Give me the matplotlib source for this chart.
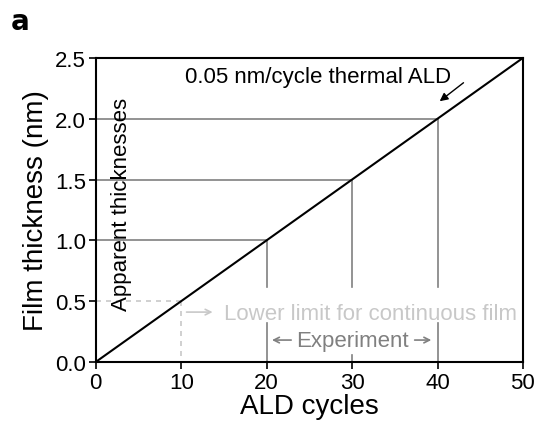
import matplotlib
matplotlib.use("Agg")
import matplotlib.pyplot as plt

plt.rcParams['font.family'] = ['Liberation Sans', 'DejaVu Sans']

# growth line: 0.05 nm per cycle
cycles = [0, 50]
thickness = [0.0, 2.5]

# experimental points (cycles, apparent thickness)
exp_cycles = [20, 30, 40]
exp_thick = [1.0, 1.5, 2.0]

# lower limit for continuous film
limit_cycles = 10
limit_thick = 0.5

fig = plt.figure(figsize=(5.38, 4.27), dpi=100)
ax = fig.add_axes([0.178, 0.150, 0.794, 0.712])

ax.plot(cycles, thickness, color='black', lw=1.5, zorder=3)

gray = '#808080'
light = '#c8c8c8'
for c, t in zip(exp_cycles, exp_thick):
    ax.plot([0, c], [t, t], color=gray, lw=1.2)
    ax.plot([c, c], [t, 0.62], color=gray, lw=1.2)
for c in [20, 40]:
    ax.plot([c, c], [0.32, 0], color=gray, lw=1.2)
ax.plot([30, 30], [0.06, 0], color=gray, lw=1.2)

ax.plot([0, limit_cycles], [limit_thick, limit_thick], color=light, lw=1.2, ls=(0, (3, 3)))
ax.plot([limit_cycles, limit_cycles], [limit_thick, 0], color=light, lw=1.2, ls=(0, (3, 3)))
ax.annotate('', xy=(14.0, 0.41), xytext=(10.3, 0.41),
            arrowprops=dict(arrowstyle='->', color=light, lw=1.2))
ax.text(15.0, 0.40, 'Lower limit for continuous film', color=light,
        fontsize=16, va='center', ha='left')

# experiment range
ax.text(30, 0.18, 'Experiment', color=gray, fontsize=16,
        va='center', ha='center')
ax.annotate('', xy=(20.3, 0.18), xytext=(23.2, 0.18),
            arrowprops=dict(arrowstyle='->', color=gray, lw=1.2))
ax.annotate('', xy=(39.6, 0.18), xytext=(37.0, 0.18),
            arrowprops=dict(arrowstyle='->', color=gray, lw=1.2))

ax.text(3.0, 1.30, 'Apparent thicknesses', rotation=90, fontsize=16,
        va='center', ha='center')

ax.text(26.0, 2.35, '0.05 nm/cycle thermal ALD', fontsize=16,
        va='center', ha='center')
ax.annotate('', xy=(40.0, 2.13), xytext=(43.3, 2.31),
            arrowprops=dict(arrowstyle='-|>', color='black', lw=1.0,
                            mutation_scale=12))

ax.set_xlim(0, 50)
ax.set_ylim(0, 2.5)
ax.set_xticks([0, 10, 20, 30, 40, 50])
ax.set_yticks([0.0, 0.5, 1.0, 1.5, 2.0, 2.5])
ax.set_yticklabels(['0.0', '0.5', '1.0', '1.5', '2.0', '2.5'])
ax.tick_params(direction='out', length=5, width=1.2, labelsize=16, pad=2)
for s in ax.spines.values():
    s.set_linewidth(1.5)

ax.set_xlabel('ALD cycles', fontsize=20, labelpad=0)
ax.set_ylabel('Film thickness (nm)', fontsize=20, labelpad=4)

fig.text(0.02, 0.93, 'a', fontsize=20, fontweight='bold', family='DejaVu Sans')

fig.savefig('out.png', dpi=100)
